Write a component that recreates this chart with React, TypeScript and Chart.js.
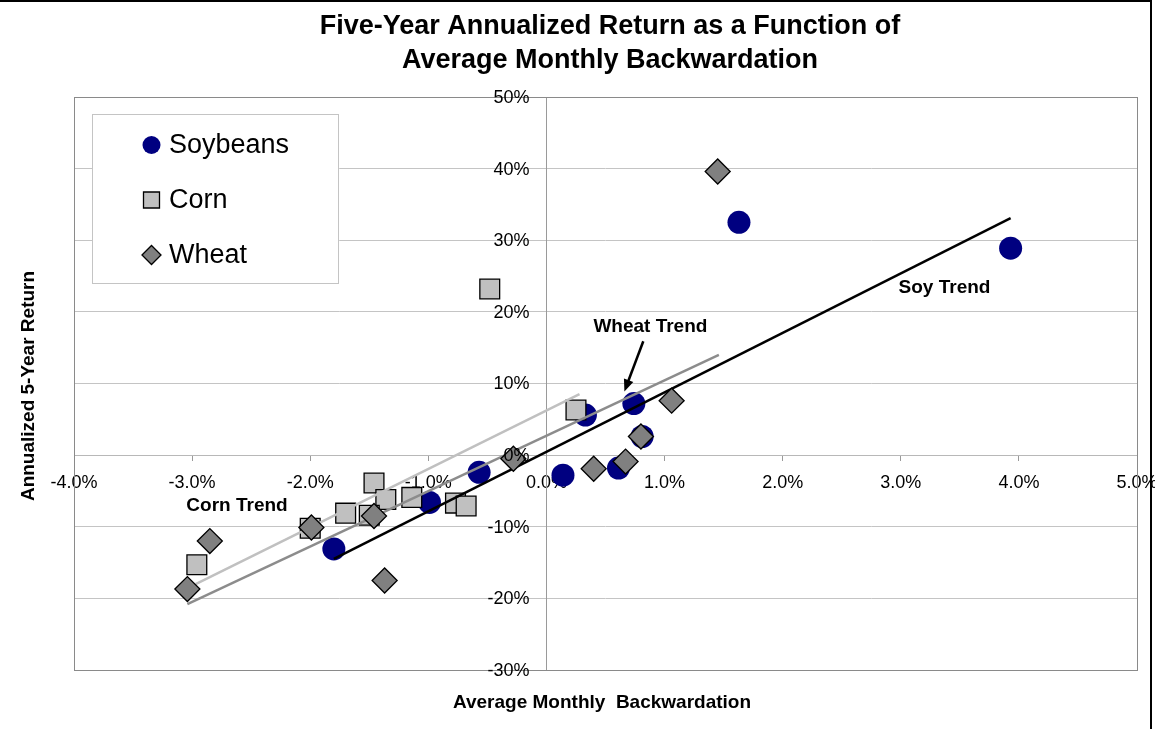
import React, { useEffect, useRef } from 'react';
import { Chart, registerables } from 'chart.js';

Chart.register(...registerables);

// ---- data (percent units) ----
const soyX = [3.93, 1.63, 0.74, 0.33, 0.81, 0.61, 0.14, -0.57, -0.99, -1.8];
const soyY = [28.9, 32.5, 7.2, 5.6, 2.6, -1.8, -2.8, -2.4, -6.6, -13.1];

const cornX = [-0.48, 0.25, -1.46, -1.36, -1.14, -1.7, -1.5, -0.77, -0.68, -2.0, -2.96];
const cornY = [23.2, 6.3, -3.9, -6.2, -5.9, -8.1, -8.4, -6.7, -7.1, -10.2, -15.3];

const wheatX = [1.45, 1.06, 0.8, 0.67, 0.4, -0.28, -1.46, -1.99, -2.85, -3.04, -1.37];
const wheatY = [39.6, 7.6, 2.6, -0.9, -1.9, -0.5, -8.5, -10.1, -12.0, -18.7, -17.5];

const soyTrendX = [-1.8, 3.93];
const soyTrendY = [-14.5, 33.1];
const wheatTrendX = [-3.04, 1.46];
const wheatTrendY = [-20.8, 14.0];
const cornTrendX = [-2.97, 0.28];
const cornTrendY = [-18.0, 8.5];

const xMin = -4;
const xMax = 5;
const yMin = -30;
const yMax = 50;

const seriesNames = ['Soybeans', 'Corn', 'Wheat'];
const titleLines = ['Five-Year Annualized Return as a Function of', 'Average Monthly Backwardation'];
const xTitle = 'Average Monthly  Backwardation';
const yTitle = 'Annualized 5-Year Return';

// annotation labels (data coords)
const noteText = ['Soy Trend', 'Wheat Trend', 'Corn Trend'];
const noteX = [3.37, 0.88, -2.62];
const noteY = [23.3, 17.9, -7.1];
const arrowFrom = { x: 0.82, y: 15.9 };
const arrowTo = { x: 0.66, y: 8.9 };

const FONT = '"Liberation Sans", Arial, Helvetica, sans-serif';

const zip = (xs: number[], ys: number[]) => xs.map((x, i) => ({ x, y: ys[i] }));

const decorPlugin = {
  id: 'decor',
  afterDraw(chart: any) {
    const ctx = chart.ctx as CanvasRenderingContext2D;
    const ca = chart.chartArea;
    const xs = chart.scales.x;
    const ys = chart.scales.y;
    ctx.save();

    // plot border
    ctx.strokeStyle = '#8a8a8a';
    ctx.lineWidth = 1;
    ctx.strokeRect(Math.round(ca.left) + 0.5, Math.round(ca.top) + 0.5, Math.round(ca.right - ca.left), Math.round(ca.bottom - ca.top));

    // y tick labels, left of the y axis at x = 0
    const x0 = xs.getPixelForValue(0);
    ctx.fillStyle = '#000';
    ctx.font = `18px ${FONT}`;
    ctx.textAlign = 'right';
    ctx.textBaseline = 'middle';
    ys.ticks.forEach((t: any) => {
      ctx.fillText(`${t.value}%`, x0 - 17, ys.getPixelForValue(t.value) + 1);
    });

    // outer black frame (top & right visible)
    ctx.strokeStyle = '#000';
    ctx.lineWidth = 2;
    ctx.beginPath();
    ctx.moveTo(0, 1);
    ctx.lineTo(1151, 1);
    ctx.lineTo(1151, chart.height);
    ctx.stroke();

    // title
    ctx.fillStyle = '#000';
    ctx.textAlign = 'center';
    ctx.textBaseline = 'middle';
    ctx.font = `bold 27px ${FONT}`;
    ctx.fillText(titleLines[0], 610, 27);
    ctx.fillText(titleLines[1], 610, 61);

    // axis titles
    ctx.font = `bold 19px ${FONT}`;
    ctx.fillText(xTitle, 602, 703);
    ctx.save();
    ctx.translate(29, 386);
    ctx.rotate(-Math.PI / 2);
    ctx.fillText(yTitle, 0, 0);
    ctx.restore();

    // trend annotations
    ctx.font = `bold 19px ${FONT}`;
    noteText.forEach((t, i) => {
      ctx.fillText(t, xs.getPixelForValue(noteX[i]), ys.getPixelForValue(noteY[i]));
    });

    // arrow
    const ax1 = xs.getPixelForValue(arrowFrom.x);
    const ay1 = ys.getPixelForValue(arrowFrom.y);
    const ax2 = xs.getPixelForValue(arrowTo.x);
    const ay2 = ys.getPixelForValue(arrowTo.y);
    const ang = Math.atan2(ay2 - ay1, ax2 - ax1);
    ctx.strokeStyle = '#000';
    ctx.lineWidth = 2.5;
    ctx.beginPath();
    ctx.moveTo(ax1, ay1);
    ctx.lineTo(ax2 - 6 * Math.cos(ang), ay2 - 6 * Math.sin(ang));
    ctx.stroke();
    ctx.fillStyle = '#000';
    ctx.beginPath();
    ctx.moveTo(ax2, ay2);
    ctx.lineTo(ax2 - 12 * Math.cos(ang) + 5 * Math.sin(ang), ay2 - 12 * Math.sin(ang) - 5 * Math.cos(ang));
    ctx.lineTo(ax2 - 12 * Math.cos(ang) - 5 * Math.sin(ang), ay2 - 12 * Math.sin(ang) + 5 * Math.cos(ang));
    ctx.closePath();
    ctx.fill();

    // legend
    const lx = 92.5, ly = 114.5, lw = 246, lh = 169;
    ctx.fillStyle = '#fff';
    ctx.fillRect(lx, ly, lw, lh);
    ctx.strokeStyle = '#c4c4c4';
    ctx.lineWidth = 1;
    ctx.strokeRect(lx, ly, lw, lh);
    const rows = [145, 200, 255];
    const mx = 151.5;
    const ds = chart.data.datasets;
    ctx.font = `27px ${FONT}`;
    ctx.textAlign = 'left';
    rows.forEach((ry, i) => {
      const d = ds.find((dd: any) => dd.label === seriesNames[i]);
      ctx.fillStyle = d.backgroundColor;
      ctx.strokeStyle = '#000';
      ctx.lineWidth = 1.3;
      ctx.beginPath();
      if (i === 0) {
        ctx.arc(mx, ry, 9, 0, Math.PI * 2);
        ctx.fill();
      } else if (i === 1) {
        ctx.rect(mx - 8, ry - 8, 16, 16);
        ctx.fill();
        ctx.stroke();
      } else {
        ctx.moveTo(mx - 9.5, ry);
        ctx.lineTo(mx, ry - 9.5);
        ctx.lineTo(mx + 9.5, ry);
        ctx.lineTo(mx, ry + 9.5);
        ctx.closePath();
        ctx.fill();
        ctx.stroke();
      }
      ctx.fillStyle = '#000';
      ctx.fillText(seriesNames[i], 169, ry + 1);
    });

    ctx.restore();
  },
};

export default function App() {
  const ref = useRef<HTMLCanvasElement | null>(null);

  useEffect(() => {
    document.body.style.margin = '0';
    const canvas = ref.current;
    if (!canvas) return;
    const chart = new Chart(canvas, {
      type: 'scatter',
      data: {
        datasets: [
          {
            label: 'Wheat',
            data: zip(wheatX, wheatY),
            pointStyle: 'rectRot',
            pointRadius: 12.5,
            backgroundColor: '#808080',
            borderColor: '#000',
            borderWidth: 1.3,
            order: 0,
          },
          {
            label: 'Soy Trend',
            data: zip(soyTrendX, soyTrendY),
            showLine: true,
            pointRadius: 0,
            borderColor: '#000',
            borderWidth: 2.5,
            order: 1,
          },
          {
            label: 'Wheat Trend',
            data: zip(wheatTrendX, wheatTrendY),
            showLine: true,
            pointRadius: 0,
            borderColor: '#8c8c8c',
            borderWidth: 2.5,
            order: 1,
          },
          {
            label: 'Corn Trend',
            data: zip(cornTrendX, cornTrendY),
            showLine: true,
            pointRadius: 0,
            borderColor: '#c0c0c0',
            borderWidth: 2.5,
            order: 1,
          },
          {
            label: 'Corn',
            data: zip(cornX, cornY),
            pointStyle: 'rect',
            pointRadius: 14,
            backgroundColor: '#c0c0c0',
            borderColor: '#000',
            borderWidth: 1.3,
            order: 2,
          },
          {
            label: 'Soybeans',
            data: zip(soyX, soyY),
            pointStyle: 'circle',
            pointRadius: 11.5,
            backgroundColor: '#000080',
            borderWidth: 0,
            order: 3,
          },
        ],
      },
      options: {
        responsive: false,
        animation: false,
        events: [],
        layout: { padding: { left: 74, right: 18, top: 97, bottom: 59 } },
        plugins: {
          legend: { display: false },
          title: { display: false },
          tooltip: { enabled: false },
        },
        scales: {
          x: {
            type: 'linear',
            min: xMin,
            max: xMax,
            position: { y: 0 } as any,
            afterFit: (s: any) => {
              s.paddingLeft = 0;
              s.paddingRight = 0;
            },
            ticks: {
              stepSize: 1,
              padding: 12,
              color: '#000',
              font: { family: FONT, size: 18 },
              callback: (v: any) => `${Number(v).toFixed(1)}%`,
              maxRotation: 0,
              autoSkip: false,
            },
            grid: { drawOnChartArea: false, drawTicks: true, tickLength: 5, color: '#9a9a9a' },
            border: { display: true, color: '#b8b8b8', width: 1 },
          },
          y: {
            type: 'linear',
            min: yMin,
            max: yMax,
            position: { x: 0 } as any,
            afterFit: (s: any) => {
              s.paddingTop = 0;
              s.paddingBottom = 0;
            },
            ticks: {
              stepSize: 10,
              display: false,
              font: { family: FONT, size: 18 },
            },
            grid: { color: '#c4c4c4', lineWidth: 1, tickLength: 5 },
            border: { display: true, color: '#9a9a9a', width: 1 },
          },
        },
      },
      plugins: [decorPlugin],
    });
    return () => chart.destroy();
  }, []);

  return (
    <div style={{ width: 1155, height: 729, background: '#fff' }}>
      <canvas ref={ref} width={1155} height={729} style={{ display: 'block' }} />
    </div>
  );
}
